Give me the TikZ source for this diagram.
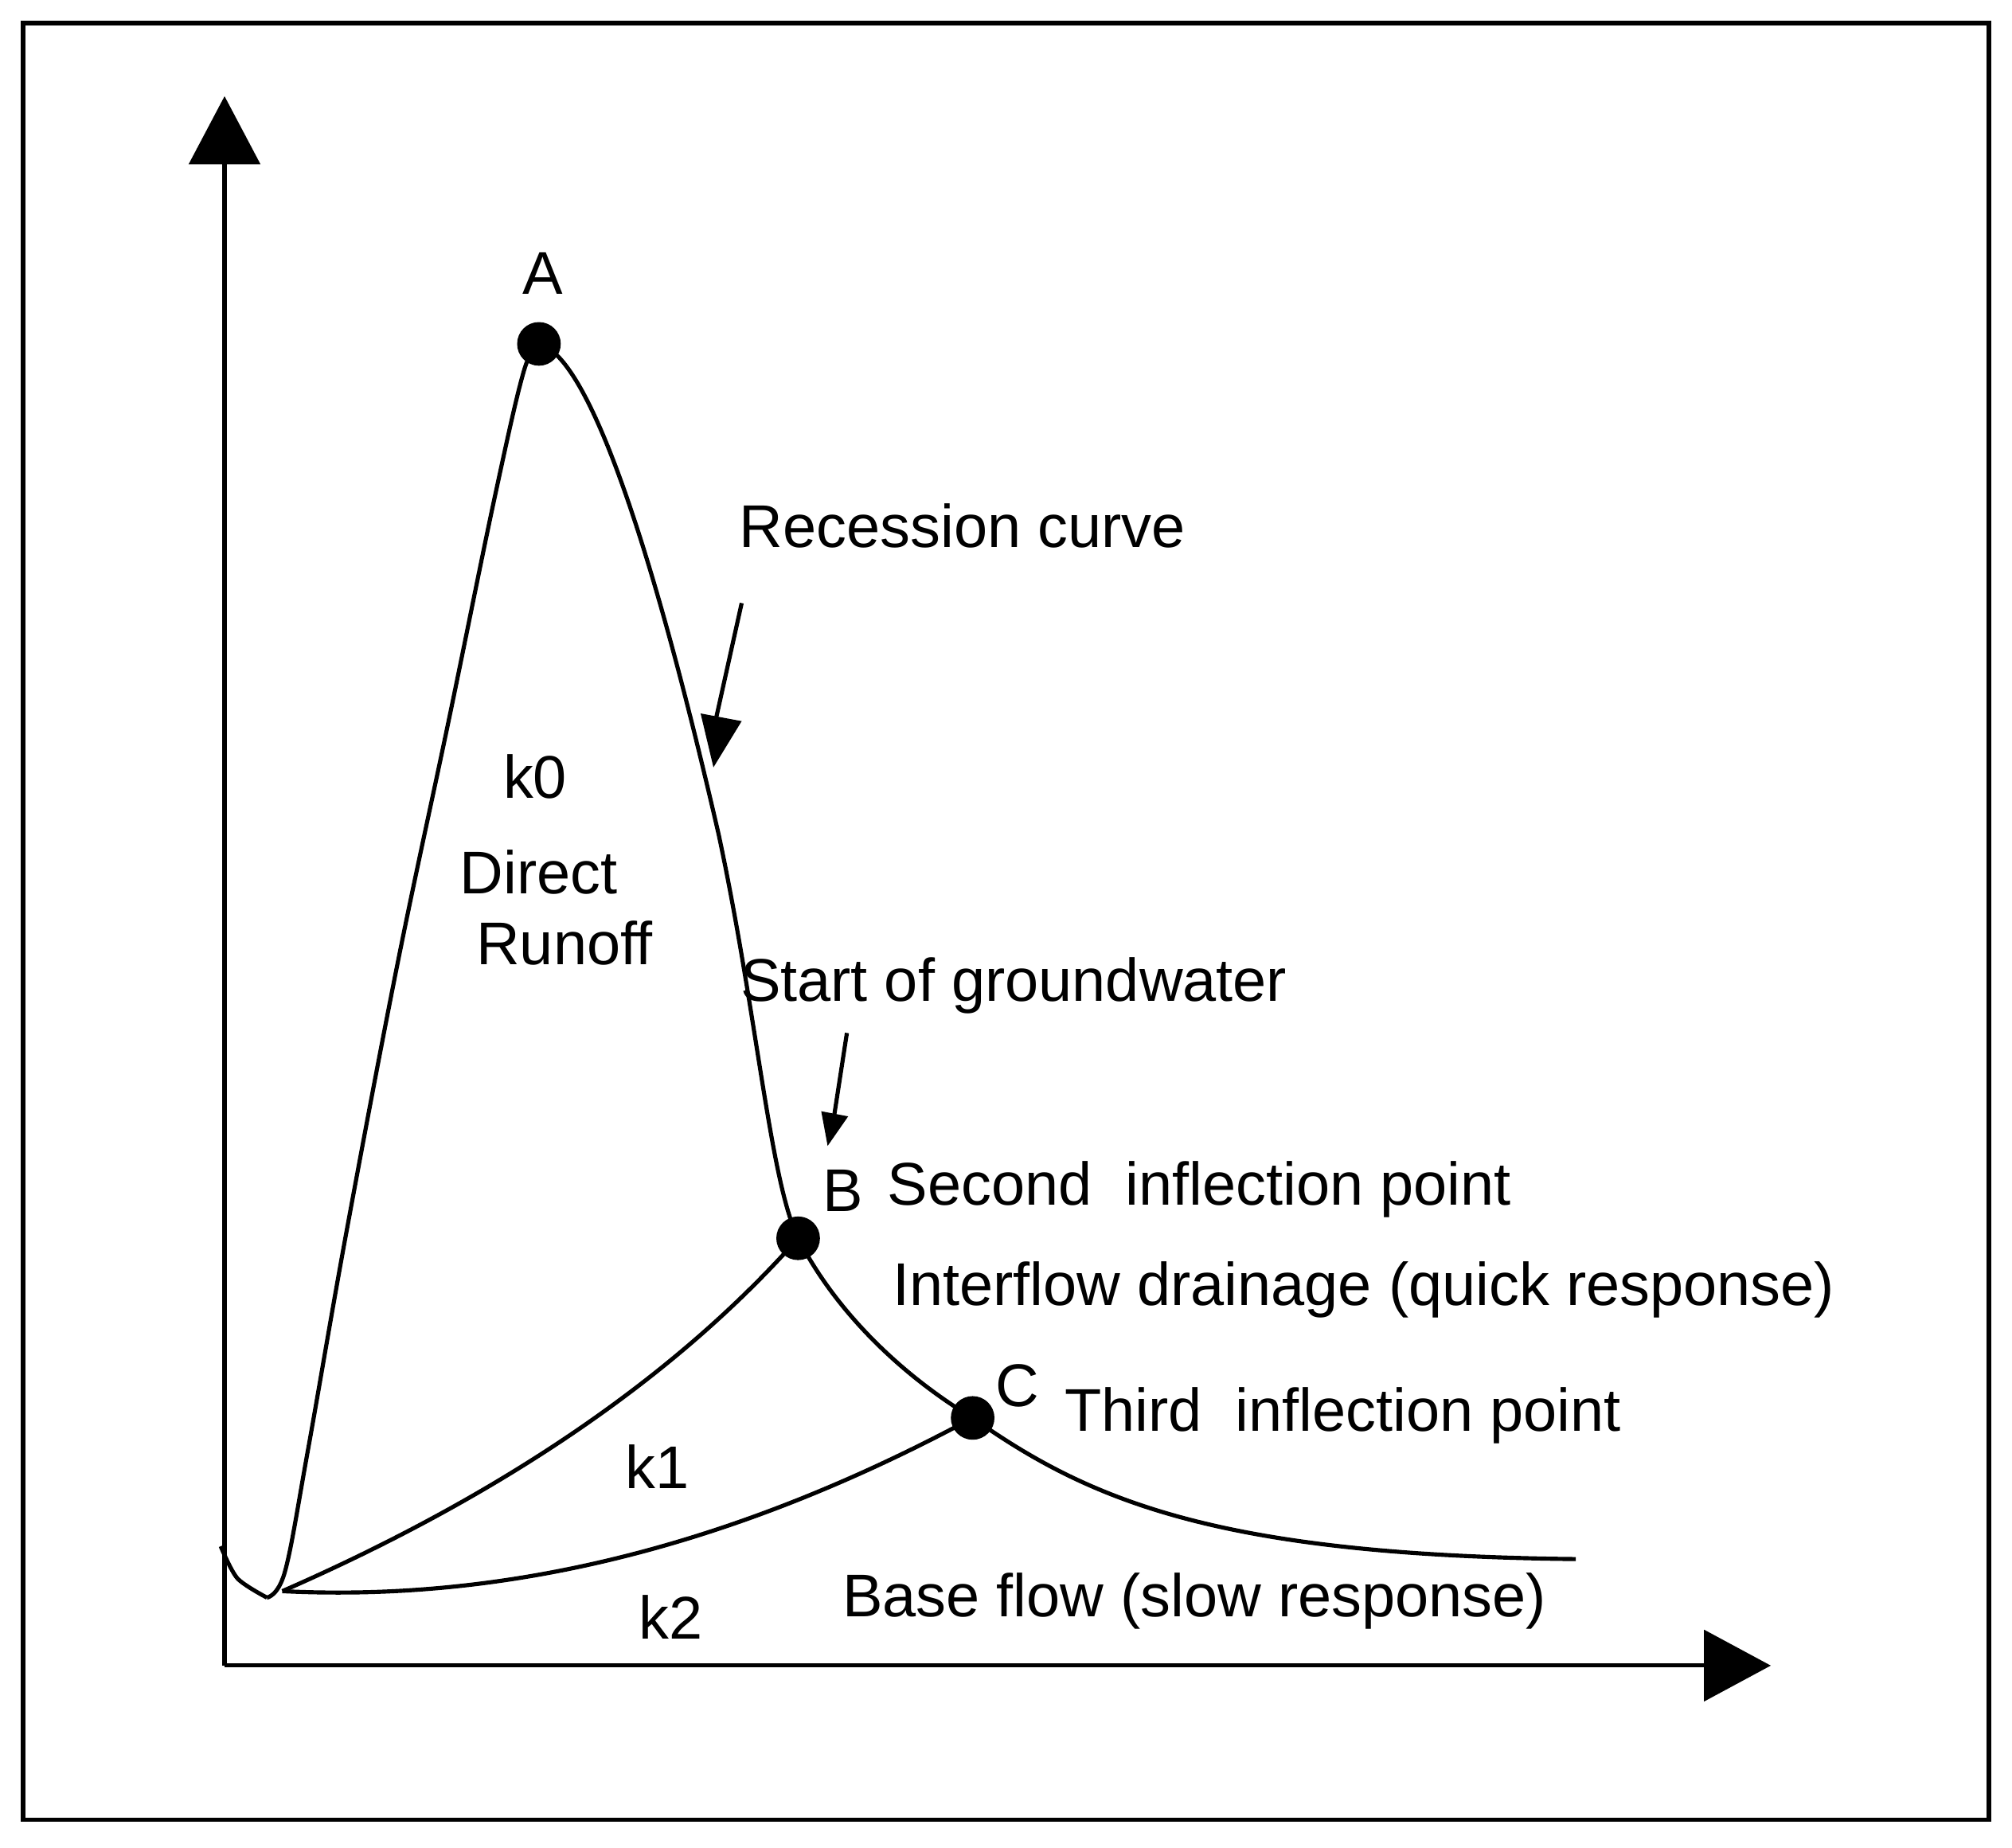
\documentclass[tikz,border=0pt]{standalone}
\usepackage{fontspec}
\setmainfont{Liberation Sans}
\begin{document}
\begin{tikzpicture}[x=0.5pt,y=-0.5pt,line width=1.6pt,
  lbl/.style={font=\fontsize{23.5}{28}\selectfont,inner sep=0pt},
  dot/.style={circle,fill=black,minimum size=17pt,inner sep=0pt},
  tri/.style={fill=black}]
\useasboundingbox (0,0) rectangle (1568,1440);
\draw (18,18) rectangle (1550,1418);
% axes
\coordinate (Or) at (175,1298);
\coordinate (Yt) at (175,100);
\coordinate (Xt) at (1352,1298);
\draw (Or) -- (Yt);
\draw (Or) -- (Xt);
\fill[tri] (147,128) -- (175,75) -- (203,128) -- cycle;
\fill[tri] (1328,1270) -- (1380,1298) -- (1328,1326) -- cycle;
% curve
\coordinate (D) at (208,1245);
\coordinate (E) at (1228,1215);
\node[dot] (A) at (420,268) {};
\node[dot] (B) at (622,965) {};
\node[dot] (C) at (758,1105) {};
\draw plot[smooth] coordinates {(172,1205) (185,1230) (208,1245)};
\draw plot[smooth,tension=0.6] coordinates {(208,1245) (222,1225) (240,1130) (270,960) (310,750) (350,560) (385,390) (408,290) (420,268)};
\draw (A.center) .. controls (470,280) and (530,520) .. (560,650)
   .. controls (590,790) and (600,920) .. (B.center)
   .. controls (650,1020) and (700,1070) .. (C.center)
   .. controls (850,1170) and (950,1212) .. (E);
\coordinate (S) at (220,1240);
\draw (S) .. controls (380,1170) and (520,1080) .. (B.center);
\draw (S) .. controls (420,1250) and (600,1190) .. (C.center);
% arrows
\coordinate (r1) at (578,470); \coordinate (r2) at (558,560);
\draw (r1) -- (r2);
\fill[tri] (546,556) -- (556,598) -- (578,562) -- cycle;
\coordinate (g1) at (660,805); \coordinate (g2) at (650,870);
\draw (g1) -- (g2);
\fill[tri] (640,866) -- (645,893) -- (661,870) -- cycle;
% labels
\node[lbl] at (423,213) {A};
\node[lbl] at (750,410) {Recession curve};
\node[lbl] at (417,605) {k0};
\node[lbl] at (420,680) {Direct};
\node[lbl] at (440,735) {Runoff};
\node[lbl] at (790,768) {Start of groundwater};
\node[lbl] at (657,928) {B};
\node[lbl,anchor=west] at (690,927) {Second\ \ inflection point};
\node[lbl,anchor=west] at (694,1005) {Interflow drainage (quick response)};
\node[lbl] at (793,1080) {C};
\node[lbl,anchor=west] at (828,1103) {Third\ \ inflection point};
\node[lbl] at (512,1143) {k1};
\node[lbl] at (523,1260) {k2};
\node[lbl,anchor=west] at (655,1248) {Base flow (slow response)};
\end{tikzpicture}
\end{document}
